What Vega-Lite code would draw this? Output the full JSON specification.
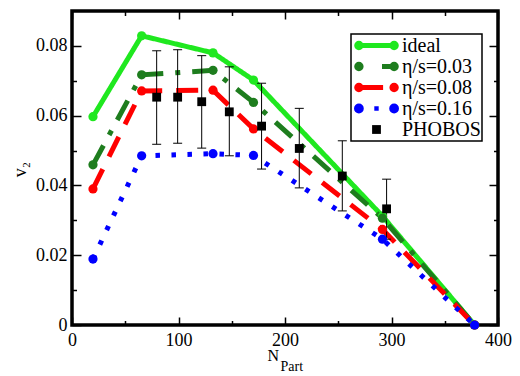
{
  "$schema": "https://vega.github.io/schema/vega-lite/v6.json",
  "width": 426,
  "height": 314,
  "autosize": {"type": "none"},
  "padding": {"left": 72, "top": 11, "right": 22, "bottom": 51},
  "background": "white",
  "config": {
    "view": {"stroke": "black", "strokeWidth": 3.5},
    "font": "Liberation Serif",
    "axis": {"labelFont": "Liberation Serif", "titleFont": "Liberation Serif"},
    "legend": {"labelFont": "Liberation Serif", "titleFont": "Liberation Serif"}
  },
  "datasets": {
    "model": [
      {"series": "ideal", "N": 19.7, "v": 0.0597},
      {"series": "ideal", "N": 65.4, "v": 0.0829},
      {"series": "ideal", "N": 132.4, "v": 0.0780},
      {"series": "ideal", "N": 170.4, "v": 0.0702},
      {"series": "ideal", "N": 291.5, "v": 0.0312},
      {"series": "ideal", "N": 378, "v": 0},
      {"series": "η/s=0.03", "N": 19.7, "v": 0.0459},
      {"series": "η/s=0.03", "N": 65.4, "v": 0.0717},
      {"series": "η/s=0.03", "N": 132.4, "v": 0.0730},
      {"series": "η/s=0.03", "N": 170.4, "v": 0.0638},
      {"series": "η/s=0.03", "N": 291.5, "v": 0.0306},
      {"series": "η/s=0.03", "N": 378, "v": 0},
      {"series": "η/s=0.08", "N": 19.7, "v": 0.0390},
      {"series": "η/s=0.08", "N": 65.4, "v": 0.0671},
      {"series": "η/s=0.08", "N": 132.4, "v": 0.0673},
      {"series": "η/s=0.08", "N": 170.4, "v": 0.0562},
      {"series": "η/s=0.08", "N": 291.5, "v": 0.0274},
      {"series": "η/s=0.08", "N": 378, "v": 0},
      {"series": "η/s=0.16", "N": 19.7, "v": 0.0189},
      {"series": "η/s=0.16", "N": 65.4, "v": 0.0485},
      {"series": "η/s=0.16", "N": 132.4, "v": 0.0491},
      {"series": "η/s=0.16", "N": 170.4, "v": 0.0486},
      {"series": "η/s=0.16", "N": 291.5, "v": 0.0246},
      {"series": "η/s=0.16", "N": 378, "v": 0}
    ],
    "phobos": [
      {"N": 79.5, "v": 0.0653, "lo": 0.0518, "hi": 0.0786},
      {"N": 99.2, "v": 0.0653, "lo": 0.0521, "hi": 0.0789},
      {"N": 121.8, "v": 0.0640, "lo": 0.0507, "hi": 0.0772},
      {"N": 147.7, "v": 0.0611, "lo": 0.0485, "hi": 0.0740},
      {"N": 178.0, "v": 0.0570, "lo": 0.0447, "hi": 0.0693},
      {"N": 213.4, "v": 0.0506, "lo": 0.0393, "hi": 0.0621},
      {"N": 253.8, "v": 0.0427, "lo": 0.0327, "hi": 0.0528},
      {"N": 295.4, "v": 0.0333, "lo": 0.0246, "hi": 0.0418}
    ]
  },
  "resolve": {"axis": {"x": "independent", "y": "independent"}},
  "layer": [
    {
      "data": {"name": "model"},
      "mark": {"type": "line", "strokeCap": "butt"},
      "encoding": {
        "x": {
          "field": "N", "type": "quantitative",
          "scale": {"domain": [0, 400], "nice": false, "zero": false},
          "axis": {
            "orient": "bottom",
            "values": [0, 50, 100, 150, 200, 250, 300, 350, 400],
            "labelExpr": "datum.value % 100 === 0 ? datum.label : ''",
            "tickSize": {"condition": {"test": "datum.value % 100 === 0", "value": -8}, "value": -4.5},
            "tickColor": "black", "tickWidth": 1.5,
            "domain": false, "grid": false,
            "labelFont": "Liberation Serif", "labelFontSize": 18, "labelColor": "black",
            "labelPadding": 14, "labelFlush": false, "labelOverlap": false,
            "title": "N", "titleFont": "Liberation Serif", "titleFontSize": 16,
            "titleFontWeight": "normal", "titleColor": "black",
            "titleX": 195, "titleY": 35.5, "titleAlign": "left", "titleBaseline": "alphabetic"
          }
        },
        "y": {
          "field": "v", "type": "quantitative",
          "scale": {"domain": [0, 0.09], "nice": false},
          "axis": {
            "orient": "left",
            "values": [0, 0.01, 0.02, 0.03, 0.04, 0.05, 0.06, 0.07, 0.08],
            "labelExpr": "abs(datum.value*50 - round(datum.value*50)) < 0.000001 ? (datum.value === 0 ? '0' : format(datum.value, '.2f')) : ''",
            "tickSize": {"condition": {"test": "abs(datum.value*50 - round(datum.value*50)) < 0.000001", "value": -9}, "value": -4.5},
            "tickColor": "black", "tickWidth": 1.5,
            "domain": false, "grid": false,
            "labelFont": "Liberation Serif", "labelFontSize": 18, "labelColor": "black",
            "labelPadding": 14, "labelFlush": false, "labelOverlap": false,
            "title": "v₂", "titleFont": "Liberation Serif", "titleFontSize": 18,
            "titleFontWeight": "normal", "titleColor": "black",
            "titleX": -47, "titleY": 158, "titleAngle": 270, "titleAlign": "center", "titleBaseline": "alphabetic"
          }
        },
        "color": {
          "field": "series", "type": "nominal",
          "scale": {
            "domain": ["ideal", "η/s=0.03", "η/s=0.08", "η/s=0.16", "PHOBOS"],
            "range": ["#1fe81f", "#1e7d1e", "#ff0000", "#0000ff", "black"]
          },
          "legend": {
            "orient": "none", "legendX": 279, "legendY": 23,
            "title": null, "padding": 1,
            "strokeColor": "black", "fillColor": "white",
            "symbolSize": 1936, "clipHeight": 21, "rowPadding": 0,
            "labelOffset": 1, "labelFont": "Liberation Serif", "labelFontSize": 20,
            "labelColor": "black", "labelLimit": 300,
            "encode": {
              "legend": {
                "update": {
                  "stroke": {"value": "black"},
                  "strokeWidth": {"value": 1.5},
                  "fill": {"value": "white"}
                }
              },
              "labels": {
                "update": {
                  "fontSize": {"value": 20},
                  "font": {"value": "Liberation Serif"},
                  "fill": {"value": "black"}
                }
              },
              "symbols": {
                "update": {
                  "shape": {"signal": "['M-0.9,0A0.1,0.1 0 1,0 -0.7,0A0.1,0.1 0 1,0 -0.9,0ZM-0.8,0L0.8,0M0.7,0A0.1,0.1 0 1,0 0.9,0A0.1,0.1 0 1,0 0.7,0Z', 'M-0.9,0A0.1,0.1 0 1,0 -0.7,0A0.1,0.1 0 1,0 -0.9,0ZM0.25,0L0.8,0M0.7,0A0.1,0.1 0 1,0 0.9,0A0.1,0.1 0 1,0 0.7,0Z', 'M-0.9,0A0.1,0.1 0 1,0 -0.7,0A0.1,0.1 0 1,0 -0.9,0ZM-0.8,0L0.3,0M0.7,0A0.1,0.1 0 1,0 0.9,0A0.1,0.1 0 1,0 0.7,0Z', 'M-0.92,0A0.12,0.12 0 1,0 -0.68,0A0.12,0.12 0 1,0 -0.92,0ZM-0.1,0L0.1,0M0.68,0A0.12,0.12 0 1,0 0.92,0A0.12,0.12 0 1,0 0.68,0Z', 'M-0.2,-0.2L0.2,-0.2L0.2,0.2L-0.2,0.2Z'][datum.index]"},
                  "size": {"value": 1936},
                  "fill": {"signal": "scale('color', datum.value)"},
                  "stroke": {"signal": "scale('color', datum.value)"},
                  "strokeWidth": {"signal": "(datum.index === 4 ? 0 : (datum.index === 3 ? 4.5 : 5))"},
                  "opacity": {"value": 1}
                }
              }
            }
          }
        },
        "strokeDash": {
          "field": "series", "type": "nominal",
          "scale": {
            "domain": ["ideal", "η/s=0.03", "η/s=0.08", "η/s=0.16"],
            "range": [[1, 0], [22, 12, 5, 12], [22, 14], [4.5, 11.5]]
          },
          "legend": null
        },
        "strokeWidth": {
          "field": "series", "type": "ordinal",
          "scale": {
            "domain": ["ideal", "η/s=0.03", "η/s=0.08", "η/s=0.16"],
            "range": [5, 5, 5, 4.5]
          },
          "legend": null
        }
      }
    },
    {
      "data": {"name": "phobos"},
      "mark": {"type": "rule", "color": "black", "strokeWidth": 1},
      "encoding": {
        "x": {
          "field": "N", "type": "quantitative",
          "axis": {
            "orient": "top",
            "values": [0, 50, 100, 150, 200, 250, 300, 350, 400],
            "labels": false,
            "tickSize": {"condition": {"test": "datum.value % 100 === 0", "value": -8}, "value": -4.5},
            "tickColor": "black", "tickWidth": 1.5,
            "domain": false, "grid": false,
            "title": "Part", "titleFont": "Liberation Serif", "titleFontSize": 14,
            "titleFontWeight": "normal", "titleColor": "black",
            "titleX": 208, "titleY": 359, "titleAlign": "left", "titleBaseline": "alphabetic"
          }
        },
        "y": {
          "field": "lo", "type": "quantitative",
          "axis": {
            "orient": "right",
            "values": [0, 0.01, 0.02, 0.03, 0.04, 0.05, 0.06, 0.07, 0.08],
            "labels": false,
            "tickSize": {"condition": {"test": "abs(datum.value*50 - round(datum.value*50)) < 0.000001", "value": -9}, "value": -4.5},
            "tickColor": "black", "tickWidth": 1.5,
            "domain": false, "grid": false,
            "title": null
          }
        },
        "y2": {"field": "hi"}
      }
    },
    {
      "data": {"name": "phobos"},
      "mark": {"type": "tick", "orient": "horizontal", "size": 9, "thickness": 1, "color": "black", "opacity": 1},
      "encoding": {
        "x": {"field": "N", "type": "quantitative", "axis": null},
        "y": {"field": "lo", "type": "quantitative", "axis": null}
      }
    },
    {
      "data": {"name": "phobos"},
      "mark": {"type": "tick", "orient": "horizontal", "size": 9, "thickness": 1, "color": "black", "opacity": 1},
      "encoding": {
        "x": {"field": "N", "type": "quantitative", "axis": null},
        "y": {"field": "hi", "type": "quantitative", "axis": null}
      }
    },
    {
      "data": {"name": "model"},
      "mark": {"type": "point", "filled": true, "size": 85, "opacity": 1, "strokeWidth": 0},
      "encoding": {
        "x": {"field": "N", "type": "quantitative", "axis": null},
        "y": {"field": "v", "type": "quantitative", "axis": null},
        "fill": {
          "field": "series", "type": "nominal",
          "scale": {
            "domain": ["ideal", "η/s=0.03", "η/s=0.08", "η/s=0.16"],
            "range": ["#1fe81f", "#1e7d1e", "#ff0000", "#0000ff"]
          },
          "legend": null
        }
      }
    },
    {
      "data": {"name": "phobos"},
      "mark": {"type": "square", "color": "black", "size": 78, "opacity": 1},
      "encoding": {
        "x": {"field": "N", "type": "quantitative", "axis": null},
        "y": {"field": "v", "type": "quantitative", "axis": null}
      }
    }
  ]
}
